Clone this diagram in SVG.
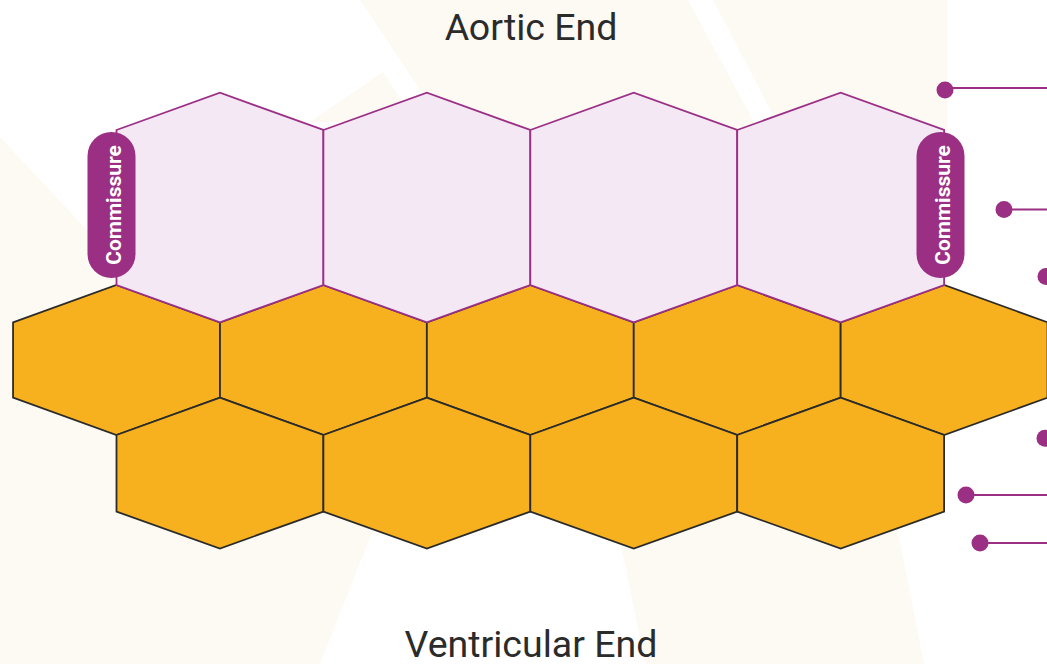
<svg xmlns="http://www.w3.org/2000/svg" width="1047" height="664" viewBox="0 0 1047 664">
  <style>
    .bg { fill: #fdfaf3; stroke: none; }
    .pink { fill: #f3e8f3; stroke: #9c2f86; stroke-width: 1.8; stroke-linejoin: miter; }
    .orange { fill: #f8b11e; stroke: #2b2b2b; stroke-width: 1.8; stroke-linejoin: miter; }
    .pill { fill: #9b2f83; }
    .pilltext { font-family: Roboto, "Liberation Sans", sans-serif; font-weight: 700; font-size: 21px; fill: #ffffff; text-anchor: middle; }
    .title { font-family: Roboto, "Liberation Sans", sans-serif; font-size: 37.5px; fill: #2b2b2b; text-anchor: middle; }
    .dot { fill: #9b2f83; }
    .lead { stroke: #9b2f83; stroke-width: 2.2; fill: none; }
  </style>
  <rect x="0" y="0" width="1047" height="664" fill="#ffffff"/>
  <g id="background">
    <polygon class="bg" points="360,0 688,0 761,135 450,135"/>
    <polygon class="bg" points="713,0 947,0 947,300 870,300"/>
    <polygon class="bg" points="383,72 415,122 310,122"/>
    <polygon class="bg" points="0,137 87,230 200,400 373,530 320,664 0,664"/>
    <polygon class="bg" points="600,440 880,440 924,664 645,664"/>
  </g>
  <g id="title-aortic"><text class="title" x="531" y="40">Aortic End</text></g>
  <g id="title-ventricular"><text class="title" x="531" y="657">Ventricular End</text></g>
  <g id="orange-middle">
    <polygon id="om1" class="orange" points="13.05,322.3 116.5,285 219.95,322.3 219.95,397.7 116.5,435 13.05,397.7"/>
    <polygon id="om2" class="orange" points="219.95,322.3 323.4,285 426.85,322.3 426.85,397.7 323.4,435 219.95,397.7"/>
    <polygon id="om3" class="orange" points="426.85,322.3 530.3,285 633.75,322.3 633.75,397.7 530.3,435 426.85,397.7"/>
    <polygon id="om4" class="orange" points="633.75,322.3 737.2,285 840.65,322.3 840.65,397.7 737.2,435 633.75,397.7"/>
    <polygon id="om5" class="orange" points="840.65,322.3 944.1,285 1047.55,322.3 1047.55,397.7 944.1,435 840.65,397.7"/>
  </g>
  <g id="orange-bottom">
    <polygon id="ob1" class="orange" points="116.5,435 219.95,397.7 323.4,435 323.4,511.5 219.95,548.5 116.5,511.5"/>
    <polygon id="ob2" class="orange" points="323.4,435 426.85,397.7 530.3,435 530.3,511.5 426.85,548.5 323.4,511.5"/>
    <polygon id="ob3" class="orange" points="530.3,435 633.75,397.7 737.2,435 737.2,511.5 633.75,548.5 530.3,511.5"/>
    <polygon id="ob4" class="orange" points="737.2,435 840.65,397.7 944.1,435 944.1,511.5 840.65,548.5 737.2,511.5"/>
  </g>
  <g id="pink-top">
    <polygon id="p1" class="pink" points="116.5,130 219.95,92.7 323.4,130 323.4,285 219.95,322.3 116.5,285"/>
    <polygon id="p2" class="pink" points="323.4,130 426.85,92.7 530.3,130 530.3,285 426.85,322.3 323.4,285"/>
    <polygon id="p3" class="pink" points="530.3,130 633.75,92.7 737.2,130 737.2,285 633.75,322.3 530.3,285"/>
    <polygon id="p4" class="pink" points="737.2,130 840.65,92.7 944.1,130 944.1,285 840.65,322.3 737.2,285"/>
  </g>
  <g id="commissure-left">
    <rect class="pill" x="87.5" y="132" width="48" height="146" rx="24" ry="24"/>
    <text class="pilltext" transform="translate(120.5,205) rotate(-90)">Commissure</text>
  </g>
  <g id="commissure-right">
    <rect class="pill" x="916.5" y="132" width="48" height="146" rx="24" ry="24"/>
    <text class="pilltext" transform="translate(949.5,205) rotate(-90)">Commissure</text>
  </g>
  <g id="connectors">
    <line class="lead" x1="945" y1="88" x2="1047" y2="88"/>
    <circle class="dot" cx="945" cy="90" r="8.5"/>
    <line class="lead" x1="1004" y1="209.5" x2="1047" y2="209.5"/>
    <circle class="dot" cx="1004" cy="209.5" r="8.5"/>
    <circle class="dot" cx="1046" cy="276.5" r="8.5"/>
    <circle class="dot" cx="1045" cy="438.3" r="8.5"/>
    <line class="lead" x1="966" y1="495" x2="1047" y2="495"/>
    <circle class="dot" cx="966" cy="495" r="8.5"/>
    <line class="lead" x1="980" y1="543" x2="1047" y2="543"/>
    <circle class="dot" cx="980" cy="543" r="8.5"/>
  </g>
</svg>
